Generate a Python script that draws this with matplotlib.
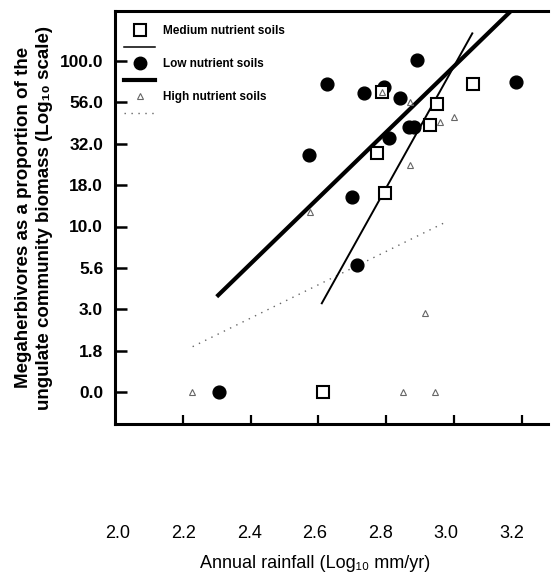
import matplotlib
matplotlib.use("Agg")
import matplotlib.pyplot as plt
from matplotlib.lines import Line2D

plt.rcParams['font.family'] = ['Liberation Sans', 'DejaVu Sans']

# ---- data (x: log10 annual rainfall, y: log10 % megaherbivore biomass) ----
low_x = [2.307, 2.572, 2.625, 2.699, 2.714, 2.735, 2.794, 2.808, 2.841, 2.867, 2.882, 2.891, 3.183]
low_y = [0.000, 1.432, 1.861, 1.178, 0.767, 1.807, 1.843, 1.535, 1.776, 1.601, 1.601, 2.006, 1.873]

med_x = [2.613, 2.774, 2.787, 2.796, 2.929, 2.951, 3.055]
med_y = [0.000, 1.442, 1.815, 1.201, 1.613, 1.738, 1.859]

high_x = [2.226, 2.575, 2.788, 2.849, 2.870, 2.870, 2.914, 2.944, 2.959, 3.000]
high_y = [0.000, 1.089, 1.813, 0.000, 1.372, 1.752, 0.477, 0.000, 1.631, 1.662]

# fitted regression lines (end points)
low_fit_x = [2.300, 3.170]
low_fit_y = [0.576, 2.306]
med_fit_x = [2.610, 3.054]
med_fit_y = [0.536, 2.167]
high_fit_x = [2.229, 2.976]
high_fit_y = [0.274, 1.027]

y_tick_pos = [0.0, 0.25, 0.5, 0.75, 1.0, 1.25, 1.5, 1.75, 2.0]
y_tick_labels = ['0.0', '1.8', '3.0', '5.6', '10.0', '18.0', '32.0', '56.0', '100.0']
x_tick_pos = [2.0, 2.2, 2.4, 2.6, 2.8, 3.0, 3.2]
x_tick_labels = ['2.0', '2.2', '2.4', '2.6', '2.8', '3.0', '3.2']

legend_labels = ['Medium nutrient soils', 'Low nutrient soils', 'High nutrient soils']

# ---- figure ----
fig = plt.figure(figsize=(5.51, 5.81), dpi=100)
W, H = 551, 581
ax = fig.add_axes([115 / W, 157 / H, 433 / W, 413 / H])

tri_col = '#666666'
ax.plot(high_fit_x, high_fit_y, color=tri_col, lw=1.0, ls=(0, (1, 4)), zorder=2)
ax.plot(low_fit_x, low_fit_y, color='black', lw=3.0, solid_capstyle='butt', zorder=2)
ax.plot(med_fit_x, med_fit_y, color='black', lw=1.4, zorder=2)

ax.plot(low_x, low_y, ls='none', marker='o', ms=9.2, mfc='black', mec='black', zorder=3)
ax.plot(med_x, med_y, ls='none', marker='s', ms=8.2, mfc='white', mec='black', mew=1.5, zorder=4)
ax.plot(high_x, high_y, ls='none', marker='^', ms=5, mfc='none', mec=tri_col, mew=0.8, zorder=5)

ax.set_xlim(2.0, 2.0 + 433 / 339)
ax.set_ylim((392 - 424) / 165.5, (392 - 11) / 165.5)

ax.set_yticks(y_tick_pos)
ax.set_yticklabels(y_tick_labels, fontsize=12.5, fontweight='bold')
ax.set_xticks(x_tick_pos[1:])
ax.set_xticklabels([])
ax.tick_params(axis='y', direction='in', length=8.5, width=1.8, pad=8.5)
ax.tick_params(axis='x', direction='in', length=6.5, width=1.6)
for side in ['left', 'bottom', 'top']:
    ax.spines[side].set_linewidth(2.2)
ax.spines['right'].set_visible(False)

ax.set_ylabel('Megaherbivores as a proportion of the\nungulate community biomass (Log\u2081\u2080 scale)',
              fontsize=13.5, fontweight='bold', linespacing=1.25, labelpad=5)

handles = [
    Line2D([], [], ls='none', marker='s', ms=8.2, mfc='white', mec='black', mew=1.5),
    Line2D([], [], color='black', lw=1.1),
    Line2D([], [], ls='none', marker='o', ms=9.0, mfc='black', mec='black'),
    Line2D([], [], color='black', lw=3.0),
    Line2D([], [], ls='none', marker='^', ms=4.5, mfc='none', mec=tri_col, mew=0.8),
    Line2D([], [], color=tri_col, lw=1.0, ls=(0, (1, 4))),
]
labels = [legend_labels[0], '', legend_labels[1], '', legend_labels[2], '']
leg = ax.legend(handles, labels, loc='upper left', bbox_to_anchor=(0, 1 - 5 / 413), frameon=False,
                prop={'size': 8.5, 'weight': 'bold'}, handlelength=2.6, handletextpad=0.7,
                labelspacing=0.38, borderaxespad=0, borderpad=0.8, numpoints=1)

# separate tick-label scale below the plot, as in the original figure
ax2 = fig.add_axes([118 / W, (H - 524) / H, 394 / W, 0.0001])
ax2.set_xlim(2.0, 3.2)
ax2.set_xticks(x_tick_pos)
ax2.set_xticklabels(x_tick_labels, fontsize=13)
ax2.tick_params(axis='x', length=0, pad=1)
ax2.set_yticks([])
for s in ax2.spines.values():
    s.set_visible(False)
ax2.patch.set_visible(False)
ax2.set_xlabel('Annual rainfall (Log\u2081\u2080 mm/yr)', fontsize=13, labelpad=9)

fig.savefig('out.png', dpi=100)
